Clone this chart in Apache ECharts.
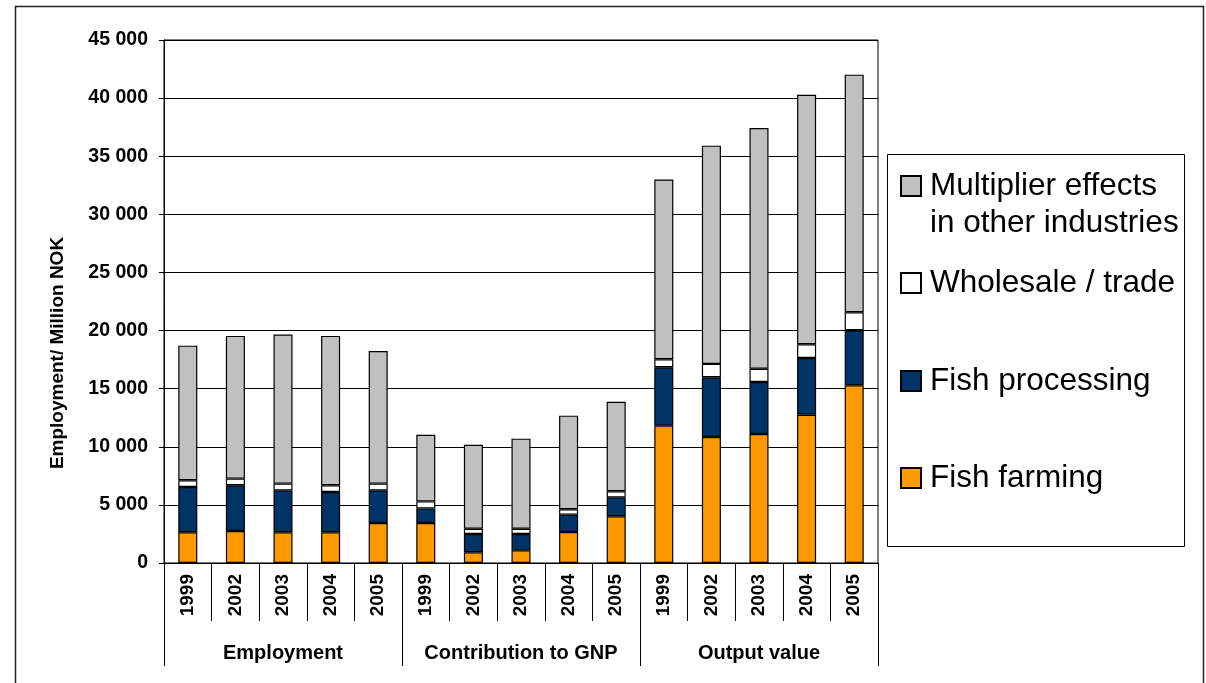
<!DOCTYPE html>
<html>
<head>
<meta charset="utf-8">
<script src="https://cdn.jsdelivr.net/npm/echarts@6/dist/echarts.min.js"></script>
<style>html,body{margin:0;padding:0;background:#fff}#c{width:1206px;height:683px}</style>
</head>
<body>
<div id="c"></div>
<script>
const years = ['1999', '2002', '2003', '2004', '2005'];
const groups = ['Employment', 'Contribution to GNP', 'Output value'];
const yTicks = [0, 5000, 10000, 15000, 20000, 25000, 30000, 35000, 40000, 45000];
const seriesNames = ['Fish farming', 'Fish processing', 'Wholesale / trade', 'Multiplier effects in other industries'];
const fishFarming    = [2640, 2750, 2640, 2640, 3440,  3440,  920, 1090, 2670, 4020,  11820, 10840, 11100, 12760, 15290];
const fishProcessing = [3900, 3940, 3610, 3470, 2810,  1260, 1580, 1410, 1490, 1630,   5020,  5140,  4480,  4880,  4740];
const wholesale      = [ 580,  570,  580,  580,  580,   600,  450,  450,  460,  520,    690,  1150,  1140,  1180,  1540];
const multiplier     = [11580, 12280, 12820, 12850, 11410, 5740, 7230, 7750, 8060, 7710, 15470, 18780, 20710, 21460, 20450];

const categories = [];
groups.forEach(g => years.forEach(y => categories.push(g + '|' + y)));

const FONT = '"Liberation Sans", Arial, sans-serif';
const colors = ['#FF9900', '#003366', '#FFFFFF', '#C0C0C0'];
const values = [fishFarming, fishProcessing, wholesale, multiplier];
const fmt = v => String(v).replace(/\B(?=(\d{3})+(?!\d))/g, ' ');

const chart = echarts.init(document.getElementById('c'), null, {renderer: 'canvas'});

const series = seriesNames.map((n, i) => ({
  name: n,
  type: 'bar',
  stack: 'total',
  barWidth: '40%',
  data: values[i],
  itemStyle: {color: colors[i], borderColor: '#000', borderWidth: 1.2},
  emphasis: {disabled: true}
}));

const legendLabels = {
  'Multiplier effects in other industries': '\nMultiplier effects\nin other industries'
};
const legendTops = {
  'Multiplier effects in other industries': 186 - 55.5,
  'Wholesale / trade': 283 - 18.5,
  'Fish processing': 381 - 18.5,
  'Fish farming': 478 - 18.5
};
const legends = seriesNames.slice().reverse().map(n => ({
  data: [n],
  left: 900,
  top: legendTops[n],
  padding: 0,
  itemWidth: 20,
  itemHeight: 20,
  icon: 'rect',
  selectedMode: false,
  formatter: nm => legendLabels[nm] || nm,
  textStyle: {fontFamily: FONT, fontSize: 31.5, color: '#000', lineHeight: 37, padding: [0, 0, 0, 4]}
}));

chart.setOption({
  animation: false,
  backgroundColor: '#fff',
  grid: {left: 164, right: 328, top: 40, bottom: 120, show: true, borderColor: '#000', borderWidth: 1},
  legend: legends,
  xAxis: [
    {
      type: 'category',
      data: categories,
      position: 'bottom',
      axisLine: {show: true, lineStyle: {color: '#000', width: 1}},
      axisTick: {show: true, interval: 0, length: 58, lineStyle: {color: '#000'}},
      axisLabel: {
        interval: 0, rotate: 90, margin: 11,
        fontFamily: FONT, fontSize: 19, fontWeight: 'bold', color: '#000',
        formatter: v => v.split('|')[1]
      },
      splitLine: {show: false}
    },
    {
      type: 'category',
      data: groups,
      position: 'bottom',
      axisLine: {show: false},
      axisTick: {show: true, interval: 0, length: 103, lineStyle: {color: '#000'}},
      axisLabel: {
        interval: 0, margin: 80,
        fontFamily: FONT, fontSize: 20, fontWeight: 'bold', color: '#000'
      },
      splitLine: {show: false}
    }
  ],
  yAxis: {
    type: 'value',
    min: yTicks[0],
    max: yTicks[yTicks.length - 1],
    interval: yTicks[1] - yTicks[0],
    axisLine: {show: true, lineStyle: {color: '#000', width: 1}},
    axisTick: {show: true, length: 5, lineStyle: {color: '#000'}},
    axisLabel: {
      margin: 16, fontFamily: FONT, fontSize: 19.5, fontWeight: 'bold', color: '#000',
      formatter: fmt
    },
    splitLine: {show: true, lineStyle: {color: '#000', width: 1}}
  },
  series: series,
  graphic: [
    {
      type: 'rect', silent: true, z: -10,
      shape: {x: 15.5, y: 6.5, width: 1188, height: 720},
      style: {fill: 'none', stroke: '#222', lineWidth: 1.5}
    },
    {
      type: 'rect', silent: true, z: -5,
      shape: {x: 887.5, y: 154.5, width: 297, height: 392},
      style: {fill: '#fff', stroke: '#000', lineWidth: 1}
    },
    {
      type: 'text', silent: true,
      x: 58, y: 353, rotation: Math.PI / 2,
      style: {
        text: 'Employment/ Million NOK', font: 'bold 19px ' + FONT,
        fill: '#000', align: 'center', verticalAlign: 'middle'
      }
    }
  ]
});
</script>
</body>
</html>
